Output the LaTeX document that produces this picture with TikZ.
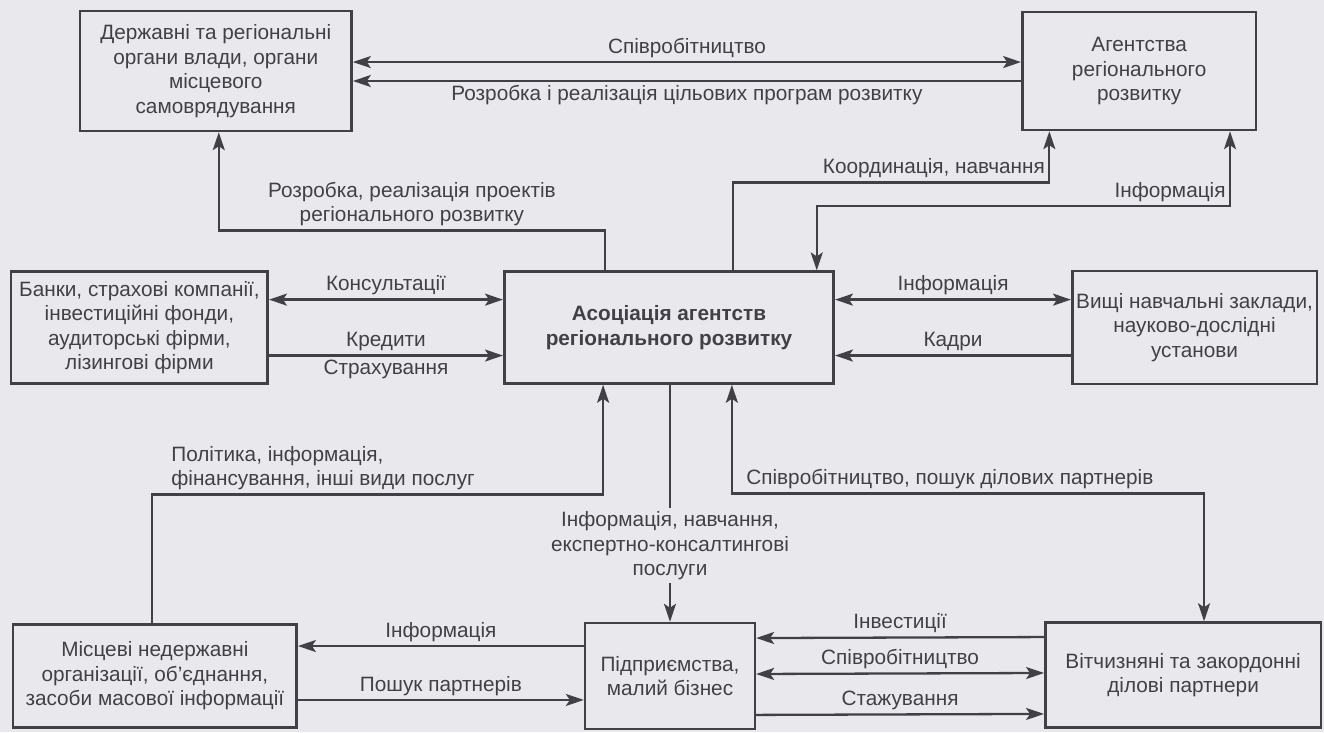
\documentclass[tikz,border=0pt]{standalone}
\usepackage{fontspec}
\setmainfont{Liberation Sans}
\usetikzlibrary{arrows.meta}
\definecolor{paper}{RGB}{233,233,237}
\definecolor{ink}{RGB}{64,64,70}

\begin{document}
\begin{tikzpicture}[x=1pt,y=-1pt,
    >={Stealth[length=18pt,width=12pt,inset=4pt]},
    every node/.style={text=ink,font=\fontsize{20.8}{24.5}\selectfont},
    box/.style={draw=ink,line width=2.6pt,align=center,inner sep=3pt},
    every path/.style={draw=ink,line width=2.3pt}]
  \useasboundingbox (0,0) rectangle (1324,731);
  \fill[paper] (0,0) rectangle (1324,731);

  % boxes
  \node[box,minimum width=272pt,minimum height=120pt] (gov) at (215,70) {Державні та регіональні\\органи влади, органи\\місцевого\\самоврядування};
  \node[box,minimum width=234pt,minimum height=118pt] (agency) at (1140,70) {Агентства\\регіонального\\розвитку};
  \node[box,minimum width=257pt,minimum height=112pt] (banks) at (138.5,327) {Банки, страхові компанії,\\інвестиційні фонди,\\аудиторські фірми,\\лізингові фірми};
  \node[box,minimum width=330pt,minimum height=112pt,font=\fontsize{20.8}{25}\selectfont\bfseries] (assoc) at (669,327) {Асоціація агентств\\регіонального розвитку};
  \node[box,minimum width=245pt,minimum height=113pt] (univ) at (1195.5,327) {Вищі навчальні заклади,\\науково-дослідні\\установи};
  \node[box,minimum width=284pt,minimum height=103pt] (ngo) at (154,676) {Місцеві недержавні\\організації, об’єднання,\\засоби масової інформації};
  \node[box,minimum width=170pt,minimum height=106pt] (biz) at (670,676) {Підприємства,\\малий бізнес};
  \node[box,minimum width=276pt,minimum height=105pt] (partners) at (1184,675) {Вітчизняні та закордонні\\ділові партнери};

  % top row
  \draw[<->] ([yshift=9pt]gov.east) -- node[above] {Співробітництво} ([yshift=9pt]agency.west);
  \draw[<-] ([yshift=-10pt]gov.east) -- node[below] {Розробка і реалізація цільових програм розвитку} ([yshift=-10pt]agency.west);
  \draw[->] ([xshift=-64pt]assoc.north) -- ++(0,-40) -| node[pos=0.25,above,align=center] {Розробка, реалізація проектів\\регіонального розвитку} ([xshift=3pt]gov.south);
  \draw[->] ([xshift=64pt]assoc.north) -- ++(0,-88) -| node[pos=0.5,above left] {Координація, навчання} ([xshift=-90pt]agency.south);
  \draw[<->] ([xshift=91pt]agency.south) -- ++(0,75) -| node[pos=0,above left] {Інформація} ([xshift=148pt]assoc.north);

  % middle row
  \draw[<->] ([yshift=28pt]banks.east) -- node[above] {Консультації} ([yshift=28pt]assoc.west);
  \draw[->] ([yshift=-28pt]banks.east) -- node[above] {Кредити} node[below] {Страхування} ([yshift=-28pt]assoc.west);
  \draw[<->] ([yshift=28pt]assoc.east) -- node[above] {Інформація} ([yshift=28pt]univ.west);
  \draw[<-] ([yshift=-28pt]assoc.east) -- node[above] {Кадри} ([yshift=-28pt]univ.west);

  % bottom row
  \draw[->] ([xshift=-3pt]ngo.north) -- ++(0,-129) -| node[pos=0,above right,xshift=15pt,align=left] {Політика, інформація,\\фінансування, інші види послуг} ([xshift=-66pt]assoc.south);
  \draw[->] (biz.north |- assoc.south) -- node[pos=0.68,fill=paper,align=center] {Інформація, навчання,\\експертно-консалтингові\\послуги} (biz.north);
  \draw[<->] ([xshift=63pt]assoc.south) -- ++(0,109) -| node[pos=0,above right,xshift=10pt] {Співробітництво, пошук ділових партнерів} ([xshift=21pt]partners.north);
  \draw[<-] ([yshift=30pt]ngo.east) -- node[above] {Інформація} ([yshift=30pt]biz.west);
  \draw[->] ([yshift=-24pt]ngo.east) -- node[above] {Пошук партнерів} ([yshift=-24pt]biz.west);
  \draw[<-] ([yshift=38pt]biz.east) -- node[above] {Інвестиції} ([yshift=38pt]partners.west);
  \draw[<->] ([yshift=2pt]biz.east) -- node[above] {Співробітництво} ([yshift=2pt]partners.west);
  \draw[->] ([yshift=-39pt]biz.east) -- node[above] {Стажування} ([yshift=-39pt]partners.west);
\end{tikzpicture}
\end{document}
